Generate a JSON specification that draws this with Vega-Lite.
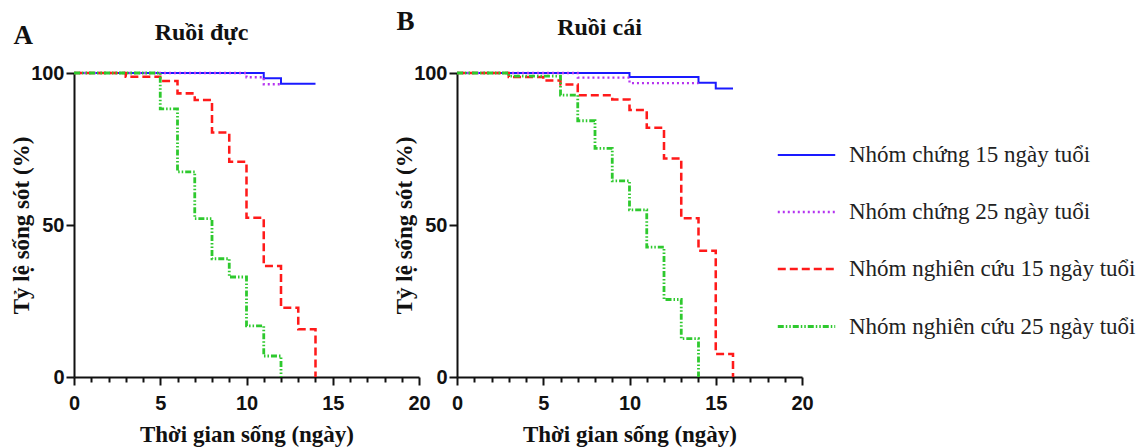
{
  "$schema": "https://vega.github.io/schema/vega-lite/v6.json",
  "background": "white",
  "padding": {"left": 10, "top": 7, "right": 5, "bottom": 2},
  "datasets": {"surv": [
    {"panel": "A", "group": "Nhóm chứng 15 ngày tuổi", "day": 0, "surv": 100},
    {"panel": "A", "group": "Nhóm chứng 15 ngày tuổi", "day": 11, "surv": 98.3},
    {"panel": "A", "group": "Nhóm chứng 15 ngày tuổi", "day": 12, "surv": 96.5},
    {"panel": "A", "group": "Nhóm chứng 15 ngày tuổi", "day": 14, "surv": 96.5},
    {"panel": "A", "group": "Nhóm chứng 25 ngày tuổi", "day": 0, "surv": 100},
    {"panel": "A", "group": "Nhóm chứng 25 ngày tuổi", "day": 10, "surv": 98.6},
    {"panel": "A", "group": "Nhóm chứng 25 ngày tuổi", "day": 11, "surv": 96.3},
    {"panel": "A", "group": "Nhóm chứng 25 ngày tuổi", "day": 12, "surv": 96.3},
    {"panel": "A", "group": "Nhóm nghiên cứu 15 ngày tuổi", "day": 0, "surv": 100},
    {"panel": "A", "group": "Nhóm nghiên cứu 15 ngày tuổi", "day": 3, "surv": 98.8},
    {"panel": "A", "group": "Nhóm nghiên cứu 15 ngày tuổi", "day": 5, "surv": 97.4},
    {"panel": "A", "group": "Nhóm nghiên cứu 15 ngày tuổi", "day": 6, "surv": 93.3},
    {"panel": "A", "group": "Nhóm nghiên cứu 15 ngày tuổi", "day": 7, "surv": 91.1},
    {"panel": "A", "group": "Nhóm nghiên cứu 15 ngày tuổi", "day": 8, "surv": 80.4},
    {"panel": "A", "group": "Nhóm nghiên cứu 15 ngày tuổi", "day": 9, "surv": 70.8},
    {"panel": "A", "group": "Nhóm nghiên cứu 15 ngày tuổi", "day": 10, "surv": 52.4},
    {"panel": "A", "group": "Nhóm nghiên cứu 15 ngày tuổi", "day": 11, "surv": 36.5},
    {"panel": "A", "group": "Nhóm nghiên cứu 15 ngày tuổi", "day": 12, "surv": 22.8},
    {"panel": "A", "group": "Nhóm nghiên cứu 15 ngày tuổi", "day": 13, "surv": 15.7},
    {"panel": "A", "group": "Nhóm nghiên cứu 15 ngày tuổi", "day": 14, "surv": 0},
    {"panel": "A", "group": "Nhóm nghiên cứu 25 ngày tuổi", "day": 0, "surv": 100},
    {"panel": "A", "group": "Nhóm nghiên cứu 25 ngày tuổi", "day": 5, "surv": 88.2},
    {"panel": "A", "group": "Nhóm nghiên cứu 25 ngày tuổi", "day": 6, "surv": 67.5},
    {"panel": "A", "group": "Nhóm nghiên cứu 25 ngày tuổi", "day": 7, "surv": 52.1},
    {"panel": "A", "group": "Nhóm nghiên cứu 25 ngày tuổi", "day": 8, "surv": 38.9},
    {"panel": "A", "group": "Nhóm nghiên cứu 25 ngày tuổi", "day": 9, "surv": 32.9},
    {"panel": "A", "group": "Nhóm nghiên cứu 25 ngày tuổi", "day": 10, "surv": 16.8},
    {"panel": "A", "group": "Nhóm nghiên cứu 25 ngày tuổi", "day": 11, "surv": 6.9},
    {"panel": "A", "group": "Nhóm nghiên cứu 25 ngày tuổi", "day": 12, "surv": 0},
    {"panel": "B", "group": "Nhóm chứng 15 ngày tuổi", "day": 0, "surv": 100},
    {"panel": "B", "group": "Nhóm chứng 15 ngày tuổi", "day": 10, "surv": 98.7},
    {"panel": "B", "group": "Nhóm chứng 15 ngày tuổi", "day": 14, "surv": 96.8},
    {"panel": "B", "group": "Nhóm chứng 15 ngày tuổi", "day": 15, "surv": 94.9},
    {"panel": "B", "group": "Nhóm chứng 15 ngày tuổi", "day": 16, "surv": 94.9},
    {"panel": "B", "group": "Nhóm chứng 25 ngày tuổi", "day": 0, "surv": 100},
    {"panel": "B", "group": "Nhóm chứng 25 ngày tuổi", "day": 7, "surv": 98.5},
    {"panel": "B", "group": "Nhóm chứng 25 ngày tuổi", "day": 10, "surv": 96.7},
    {"panel": "B", "group": "Nhóm chứng 25 ngày tuổi", "day": 14, "surv": 96.7},
    {"panel": "B", "group": "Nhóm nghiên cứu 15 ngày tuổi", "day": 0, "surv": 100},
    {"panel": "B", "group": "Nhóm nghiên cứu 15 ngày tuổi", "day": 3, "surv": 98.7},
    {"panel": "B", "group": "Nhóm nghiên cứu 15 ngày tuổi", "day": 5, "surv": 97.5},
    {"panel": "B", "group": "Nhóm nghiên cứu 15 ngày tuổi", "day": 6, "surv": 96.2},
    {"panel": "B", "group": "Nhóm nghiên cứu 15 ngày tuổi", "day": 7, "surv": 92.7},
    {"panel": "B", "group": "Nhóm nghiên cứu 15 ngày tuổi", "day": 9, "surv": 91.3},
    {"panel": "B", "group": "Nhóm nghiên cứu 15 ngày tuổi", "day": 10, "surv": 87.8},
    {"panel": "B", "group": "Nhóm nghiên cứu 15 ngày tuổi", "day": 11, "surv": 82.0},
    {"panel": "B", "group": "Nhóm nghiên cứu 15 ngày tuổi", "day": 12, "surv": 71.9},
    {"panel": "B", "group": "Nhóm nghiên cứu 15 ngày tuổi", "day": 13, "surv": 52.2},
    {"panel": "B", "group": "Nhóm nghiên cứu 15 ngày tuổi", "day": 14, "surv": 41.5},
    {"panel": "B", "group": "Nhóm nghiên cứu 15 ngày tuổi", "day": 15, "surv": 7.6},
    {"panel": "B", "group": "Nhóm nghiên cứu 15 ngày tuổi", "day": 16, "surv": 0},
    {"panel": "B", "group": "Nhóm nghiên cứu 25 ngày tuổi", "day": 0, "surv": 100},
    {"panel": "B", "group": "Nhóm nghiên cứu 25 ngày tuổi", "day": 3, "surv": 99.0},
    {"panel": "B", "group": "Nhóm nghiên cứu 25 ngày tuổi", "day": 6, "surv": 92.7},
    {"panel": "B", "group": "Nhóm nghiên cứu 25 ngày tuổi", "day": 7, "surv": 84.3},
    {"panel": "B", "group": "Nhóm nghiên cứu 25 ngày tuổi", "day": 8, "surv": 75.2},
    {"panel": "B", "group": "Nhóm nghiên cứu 25 ngày tuổi", "day": 9, "surv": 64.5},
    {"panel": "B", "group": "Nhóm nghiên cứu 25 ngày tuổi", "day": 10, "surv": 55.0},
    {"panel": "B", "group": "Nhóm nghiên cứu 25 ngày tuổi", "day": 11, "surv": 42.7},
    {"panel": "B", "group": "Nhóm nghiên cứu 25 ngày tuổi", "day": 12, "surv": 25.5},
    {"panel": "B", "group": "Nhóm nghiên cứu 25 ngày tuổi", "day": 13, "surv": 12.6},
    {"panel": "B", "group": "Nhóm nghiên cứu 25 ngày tuổi", "day": 14, "surv": 0}
  ]},
  "config": {
    "view": {"stroke": null},
    "axis": {
      "grid": false,
      "domainColor": "#111",
      "domainWidth": 2,
      "tickColor": "#111",
      "tickWidth": 2,
      "labelFont": "Liberation Sans",
      "labelFontWeight": "bold",
      "labelFontSize": 20,
      "labelColor": "#111",
      "labelFlush": false,
      "titleFont": "Liberation Serif",
      "titleFontWeight": "bold",
      "titleFontSize": 23,
      "titleColor": "#111"
    },
    "legend": {
      "title": null, "orient": "none", "legendX": 702, "legendY": 52, "symbolType": "stroke", "symbolSize": 3300,
      "labelFont": "Liberation Serif", "labelFontSize": 23, "labelColor": "#222", "labelOffset": 12, "rowPadding": 15, "labelLimit": 400
    },
    "title": {"font": "Liberation Serif", "fontWeight": "bold", "color": "#111"}
  },
  "hconcat": [
    {
      "width": 345,
      "height": 304,
      "data": {"name": "surv"},
      "title": {"text": "Ruồi đực", "anchor": "middle", "dx": -45, "fontSize": 24, "offset": -24},
      "transform": [{"filter": "datum.panel === 'A'"}],
      "resolve": {"axis": {"x": "independent"}},
      "layer": [
        {
          "mark": {"type": "line", "interpolate": "step-after"},
          "encoding": {
            "x": {"field": "day", "type": "quantitative", "scale": {"domain": [0, 20], "nice": false},
              "axis": {"orient": "bottom", "title": "Thời gian sống (ngày)", "values": [0,1,2,3,4,5,6,7,8,9,10,11,12,13,14,15,16,17,18,19,20],
                "labelExpr": "datum.value % 5 === 0 ? datum.label : ''",
                "tickSize": {"condition": {"test": "datum.value % 5 === 0", "value": 8}, "value": 5},
                "labelPadding": 8, "titlePadding": 10}},
            "y": {"field": "surv", "type": "quantitative", "scale": {"domain": [0, 100], "nice": false},
              "axis": {"title": "Tỷ lệ sống sót (%)", "values": [0, 50, 100], "tickSize": 8, "labelPadding": 2, "titlePadding": -3}},
            "color": {"field": "group", "type": "nominal",
              "scale": {"domain": ["Nhóm chứng 15 ngày tuổi", "Nhóm chứng 25 ngày tuổi", "Nhóm nghiên cứu 15 ngày tuổi", "Nhóm nghiên cứu 25 ngày tuổi"],
                "range": ["#1a1aff", "#b533f0", "#ff1a1a", "#2ec92e"]}},
            "strokeDash": {"field": "group", "type": "nominal",
              "scale": {"domain": ["Nhóm chứng 15 ngày tuổi", "Nhóm chứng 25 ngày tuổi", "Nhóm nghiên cứu 15 ngày tuổi", "Nhóm nghiên cứu 25 ngày tuổi"],
                "range": [[1, 0], [2, 3], [8, 4], [6, 2, 1.5, 2, 1.5, 2]]}},
            "strokeWidth": {"field": "group", "type": "nominal",
              "scale": {"domain": ["Nhóm chứng 15 ngày tuổi", "Nhóm chứng 25 ngày tuổi", "Nhóm nghiên cứu 15 ngày tuổi", "Nhóm nghiên cứu 25 ngày tuổi"],
                "range": [2, 2.8, 2.6, 1.8]}}
          }
        },
        {
          "mark": {"type": "rule", "opacity": 0},
          "encoding": {
            "x": {"datum": 0, "type": "quantitative",
              "axis": {"orient": "top", "title": "A", "domain": false, "ticks": false, "labels": false,
                "titleFontSize": 27, "titleAnchor": "start", "titleAlign": "left", "titleX": -61, "titleY": -24}}
          }
        }
      ]
    },
    {
      "width": 345,
      "height": 304,
      "data": {"name": "surv"},
      "title": {"text": "Ruồi cái", "anchor": "middle", "dx": -30, "fontSize": 24, "offset": -33},
      "transform": [{"filter": "datum.panel === 'B'"}],
      "resolve": {"axis": {"x": "independent"}},
      "layer": [
        {
          "mark": {"type": "line", "interpolate": "step-after"},
          "encoding": {
            "x": {"field": "day", "type": "quantitative", "scale": {"domain": [0, 20], "nice": false},
              "axis": {"orient": "bottom", "title": "Thời gian sống (ngày)", "values": [0,1,2,3,4,5,6,7,8,9,10,11,12,13,14,15,16,17,18,19,20],
                "labelExpr": "datum.value % 5 === 0 ? datum.label : ''",
                "tickSize": {"condition": {"test": "datum.value % 5 === 0", "value": 8}, "value": 5},
                "labelPadding": 8, "titlePadding": 10}},
            "y": {"field": "surv", "type": "quantitative", "scale": {"domain": [0, 100], "nice": false},
              "axis": {"title": "Tỷ lệ sống sót (%)", "values": [0, 50, 100], "tickSize": 8, "labelPadding": 2, "titlePadding": -3}},
            "color": {"field": "group", "type": "nominal",
              "scale": {"domain": ["Nhóm chứng 15 ngày tuổi", "Nhóm chứng 25 ngày tuổi", "Nhóm nghiên cứu 15 ngày tuổi", "Nhóm nghiên cứu 25 ngày tuổi"],
                "range": ["#1a1aff", "#b533f0", "#ff1a1a", "#2ec92e"]}},
            "strokeDash": {"field": "group", "type": "nominal",
              "scale": {"domain": ["Nhóm chứng 15 ngày tuổi", "Nhóm chứng 25 ngày tuổi", "Nhóm nghiên cứu 15 ngày tuổi", "Nhóm nghiên cứu 25 ngày tuổi"],
                "range": [[1, 0], [2, 3], [8, 4], [6, 2, 1.5, 2, 1.5, 2]]}},
            "strokeWidth": {"field": "group", "type": "nominal",
              "scale": {"domain": ["Nhóm chứng 15 ngày tuổi", "Nhóm chứng 25 ngày tuổi", "Nhóm nghiên cứu 15 ngày tuổi", "Nhóm nghiên cứu 25 ngày tuổi"],
                "range": [2, 2.8, 2.6, 1.8]}}
          }
        },
        {
          "mark": {"type": "rule", "opacity": 0},
          "encoding": {
            "x": {"datum": 0, "type": "quantitative",
              "axis": {"orient": "top", "title": "B", "domain": false, "ticks": false, "labels": false,
                "titleFontSize": 27, "titleAnchor": "start", "titleAlign": "left", "titleX": -61, "titleY": -38}}
          }
        }
      ]
    }
  ],
  "spacing": 38,
  "bounds": "flush"
}
